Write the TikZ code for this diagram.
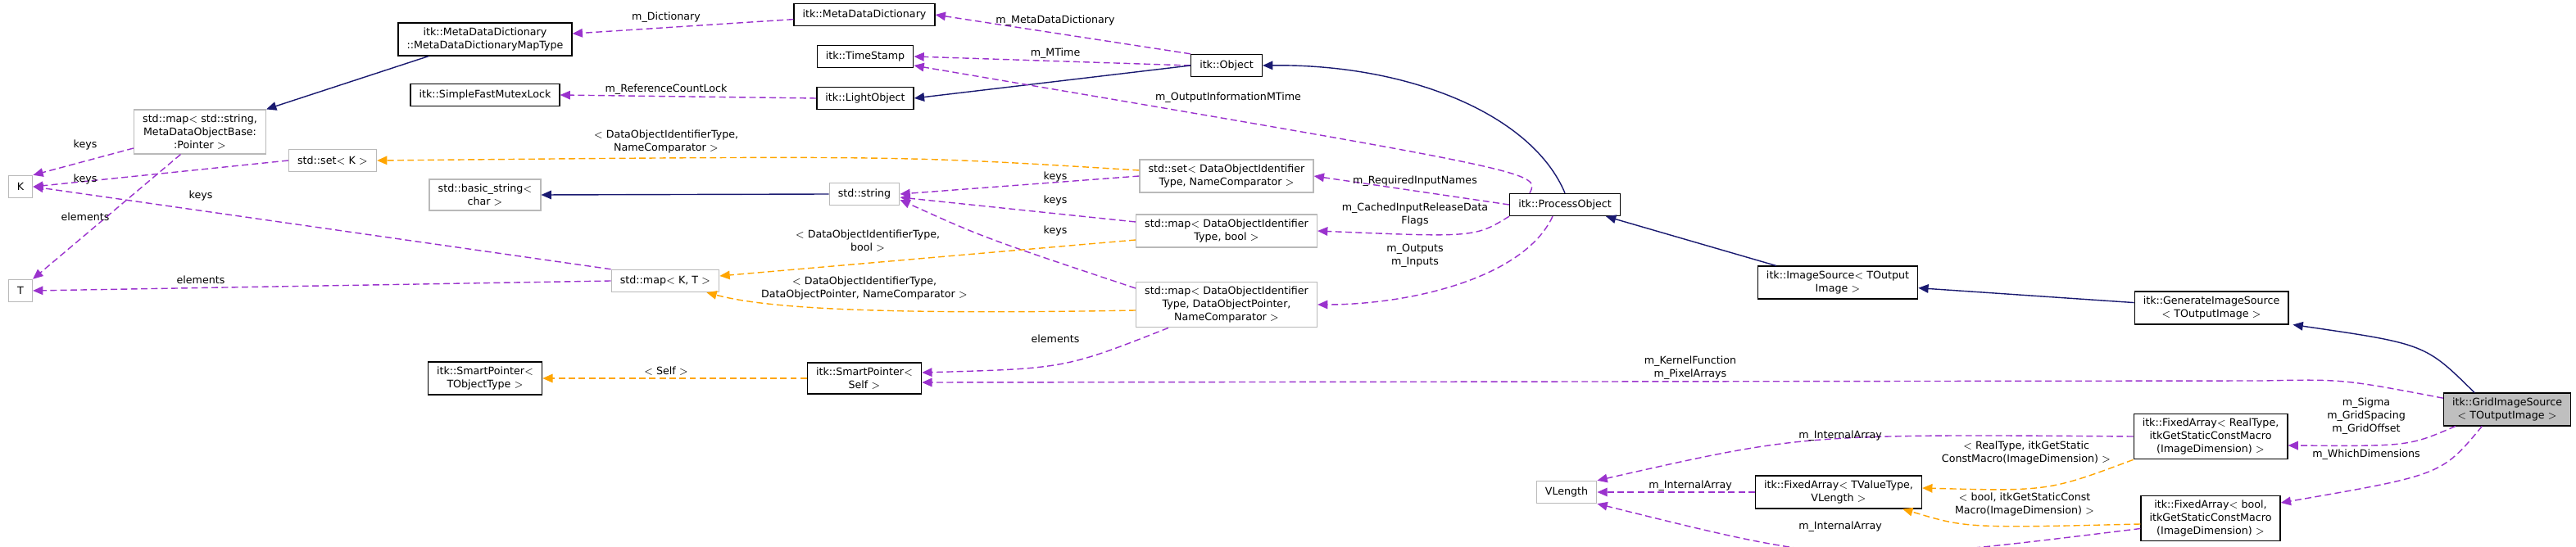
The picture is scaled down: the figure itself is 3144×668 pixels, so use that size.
\documentclass[tikz,border=0pt]{standalone}
\usepackage{fontspec}
\newfontfamily\dvs{DejaVu Sans}
\usetikzlibrary{arrows.meta}
\definecolor{usecol}{HTML}{9A32CD}
\definecolor{tplcol}{HTML}{FFA500}
\definecolor{inhcol}{HTML}{191970}
\tikzset{
  cls/.style={draw=black,line width=0.8pt,fill=white,inner xsep=6pt,inner ysep=3.3pt,
    minimum height=0.54cm,align=center,font=\dvs\fontsize{7.2}{9}\selectfont},
  ext/.style={cls,draw=gray!55},
  self/.style={cls,fill=gray!50},
  lbl/.style={align=center,inner sep=0pt,font=\dvs\fontsize{7.2}{9}\selectfont},
  use/.style={-{Triangle[length=7pt,width=6pt]},usecol,line width=0.8pt,dash pattern=on 4.5pt off 2.5pt},
  tpl/.style={use,tplcol},
  inh/.style={-{Triangle[length=7pt,width=6pt]},inhcol,line width=0.8pt}
}
\begin{document}
\begin{tikzpicture}[x=0.02cm,y=-0.02cm]
            \useasboundingbox (0,0) rectangle (3144,668);
            % Nodes with manual coordinates
            \node[cls] (mapt) at (592,48) {itk::MetaDataDictionary\\::MetaDataDictionaryMapType};
            \node[cls] (sfml) at (592,116) {itk::SimpleFastMutexLock};
            \node[ext] (smap) at (244,161) {std::map$<$ std::string,\\MetaDataObjectBase:\\:Pointer $>$};
            \node[ext] (setk) at (406,196) {std::set$<$ K $>$};
            \node[ext] (K) at (25,228) {K};
            \node[ext] (T) at (25,355) {T};
            \node[ext] (bstr) at (592,238) {std::basic\_string$<$\\char $>$};
            \node[ext] (mkt) at (812,343) {std::map$<$ K, T $>$};
            \node[cls] (spt) at (592,462) {itk::SmartPointer$<$\\TObjectType $>$};
            \node[cls] (mdd) at (1055,18) {itk::MetaDataDictionary};
            \node[cls] (ts) at (1056,69) {itk::TimeStamp};
            \node[cls] (lobj) at (1056,120) {itk::LightObject};
            \node[cls] (obj) at (1497,80) {itk::Object};
            \node[cls] (po) at (1910,250) {itk::ProcessObject};
            \node[ext] (sdoit) at (1497,215) {std::set$<$ DataObjectIdentifier\\Type, NameComparator $>$};
            \node[ext] (str) at (1055,237) {std::string};
            \node[ext] (mdb) at (1497,282) {std::map$<$ DataObjectIdentifier\\Type, bool $>$};
            \node[ext] (mdp) at (1497,372) {std::map$<$ DataObjectIdentifier\\Type, DataObjectPointer,\\NameComparator $>$};
            \node[cls] (sps) at (1055,462) {itk::SmartPointer$<$\\Self $>$};
            \node[ext] (vlen) at (1912,601) {VLength};
            \node[cls] (isrc) at (2243,345) {itk::ImageSource$<$ TOutput\\Image $>$};
            \node[cls] (gen) at (2699,376) {itk::GenerateImageSource\\$<$ TOutputImage $>$};
            \node[self] (grid) at (3060,500) {itk::GridImageSource\\$<$ TOutputImage $>$};
            \node[cls] (fareal) at (2698,533) {itk::FixedArray$<$ RealType,\\itkGetStaticConstMacro\\(ImageDimension) $>$};
            \node[cls] (fatv) at (2244,601) {itk::FixedArray$<$ TValueType,\\VLength $>$};
            \node[cls] (fabool) at (2698,633) {itk::FixedArray$<$ bool,\\itkGetStaticConstMacro\\(ImageDimension) $>$};

            % Edges
            \draw[use] (mdd) -- (mapt);
            \draw[inh] ([xshift=0.76cm]mapt.south west) -- (smap.north east);
            \draw[use] (lobj.west) -- (sfml.east);
            \draw[use] (obj.north west) -- (mdd.east);
            \draw[use] (obj.west) -- (ts.east);
            \draw[inh] (obj.west) -- (lobj.east);
            \draw[inh] (po.north) .. controls (1870,140) and (1720,78) .. (obj.east);
            \draw[use] ([xshift=0.5cm]po.north west) .. controls (1880,210) .. ([yshift=-0.22cm]ts.east);
            \draw[use] (po.west) -- (sdoit.east);
            \draw[use] (po.south west) .. controls (1800,290) .. (mdb.east);
            \draw[use] ([xshift=-0.3cm]po.south) .. controls (1860,340) and (1720,372) .. (mdp.east);
            \draw[inh] ([xshift=0.46cm]isrc.north west) -- ([xshift=-0.36cm]po.south east);
            \draw[inh] (gen) -- (isrc);
            \draw[inh] ([xshift=-0.8cm]grid.north) .. controls (2960,420) .. ([xshift=0.1cm]gen.south east);
            \draw[use] (grid.170) .. controls (2860,463) .. (2760,465) -- ([yshift=-0.1cm]sps.east);
            \draw[use] ([xshift=0.3cm]grid.south west) .. controls (2940,545) .. ([yshift=-0.22cm]fareal.east);
            \draw[use] ([xshift=0.95cm]grid.south west) .. controls (2980,580) .. ([yshift=0.38cm]fabool.east);
            \draw[use] (fareal.west) .. controls (2200,530) .. (vlen.north east);
            \draw[use] (fatv.west) -- (vlen.east);
            \draw[use] ([yshift=-0.25cm]fabool.west) .. controls (2250,690) .. (vlen.south east);
            \draw[tpl] (fareal.south west) .. controls (2500,600) .. ([yshift=0.1cm]fatv.east);
            \draw[tpl] ([yshift=-0.14cm]fabool.west) .. controls (2400,645) .. ([xshift=-0.48cm]fatv.south east);
            \draw[tpl] (sps) -- (spt);
            \draw[use] ([xshift=0.8cm]mdp.south west) .. controls (1300,450) .. ([yshift=0.14cm]sps.east);
            \draw[use] ([yshift=0.4cm]mdp.west) .. controls (1200,290) .. ([yshift=-0.14cm]str.east);
            \draw[use] ([yshift=0.22cm]mdb.west) -- ([yshift=-0.08cm]str.east);
            \draw[use] (sdoit.west) -- (str.east);
            \draw[inh] (str.west) -- (bstr.east);
            \draw[tpl] ([yshift=0.14cm]sdoit.west) .. controls (1100,190) .. (setk.east);
            \draw[tpl] ([yshift=-0.22cm]mdb.west) -- ([yshift=0.12cm]mkt.east);
            \draw[tpl] ([yshift=-0.14cm]mdp.west) .. controls (1050,385) and (930,375) .. ([xshift=-0.32cm]mkt.south east);
            \draw[use] (mkt.north west) -- (K.east);
            \draw[use] (mkt.west) -- (T.east);
            \draw[use] (setk.west) -- (K.east);
            \draw[use] ([yshift=-0.4cm]smap.west) -- (K.north east);
            \draw[use] ([xshift=1.15cm]smap.south west) -- (T.north east);

            % Edge labels
            \node[lbl] (l1) at (813,21) {m\_Dictionary};
            \node[lbl] (l2) at (813,109) {m\_ReferenceCountLock};
            \node[lbl] (l3) at (813,173) {$<$ DataObjectIdentifierType,\\NameComparator $>$};
            \node[lbl] (l4) at (104,177) {keys};
            \node[lbl] (l5) at (104,219) {keys};
            \node[lbl] (l6) at (245,239) {keys};
            \node[lbl] (l7) at (104,265) {elements};
            \node[lbl] (l8) at (245,342) {elements};
            \node[lbl] (l9) at (813,453) {$<$ Self $>$};
            \node[lbl] (l10) at (1288,25) {m\_MetaDataDictionary};
            \node[lbl] (l11) at (1288,65) {m\_MTime};
            \node[lbl] (l12) at (1499,119) {m\_OutputInformationMTime};
            \node[lbl] (l13) at (1288,216) {keys};
            \node[lbl] (l14) at (1288,245) {keys};
            \node[lbl] (l15) at (1288,282) {keys};
            \node[lbl] (l16) at (1059,294) {$<$ DataObjectIdentifierType,\\bool $>$};
            \node[lbl] (l17) at (1055,352) {$<$ DataObjectIdentifierType,\\DataObjectPointer, NameComparator $>$};
            \node[lbl] (l18) at (1727,221) {m\_RequiredInputNames};
            \node[lbl] (l19) at (1727,262) {m\_CachedInputReleaseData\\Flags};
            \node[lbl] (l20) at (1727,312) {m\_Outputs\\m\_Inputs};
            \node[lbl] (l21) at (1288,414) {elements};
            \node[lbl] (l22) at (2063,449) {m\_KernelFunction\\m\_PixelArrays};
            \node[lbl] (l23) at (2888,508) {m\_Sigma\\m\_GridSpacing\\m\_GridOffset};
            \node[lbl] (l24) at (2888,555) {m\_WhichDimensions};
            \node[lbl] (l25) at (2246,532) {m\_InternalArray};
            \node[lbl] (l26) at (2473,553) {$<$ RealType, itkGetStatic\\ConstMacro(ImageDimension) $>$};
            \node[lbl] (l27) at (2063,593) {m\_InternalArray};
            \node[lbl] (l28) at (2471,616) {$<$ bool, itkGetStaticConst\\Macro(ImageDimension) $>$};
            \node[lbl] (l29) at (2246,643) {m\_InternalArray};
        \end{tikzpicture}
\end{document}
